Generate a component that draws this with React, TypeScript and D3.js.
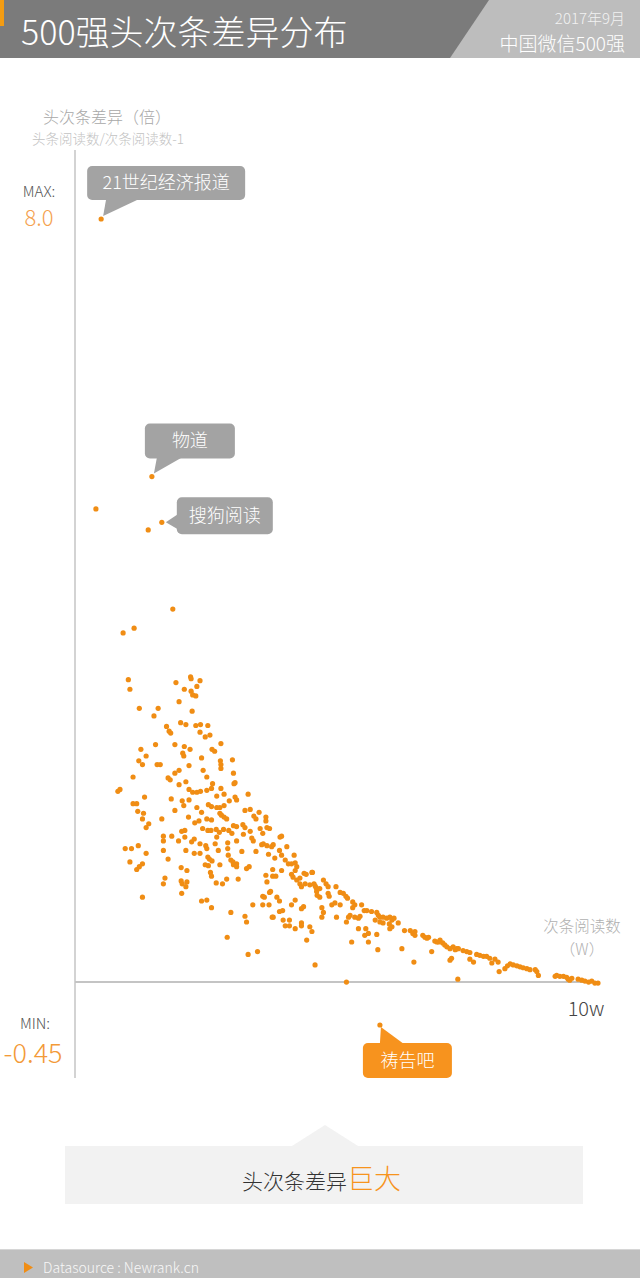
import React from "react";
import * as d3 from "d3";

// x: 次条阅读数 (thousands of reads, 100 = 10w); y: 头次条差异 (times)
const scatter: [number, number][] = [
[18.7,3.91],[9.2,3.66],[11.3,3.71],[10.2,3.17],[10.5,3.07],[12.3,2.87],[15.9,2.87],[15.1,2.79],[19.3,3.14],[22.1,3.20],
[22.2,3.18],[23.9,3.16],[20.9,3.07],[23.3,3.10],[22.2,3.05],[22.5,3.01],[23.1,3.00],[19.9,2.94],[22.4,2.84],[20.2,2.72],
[21.2,2.70],[23.1,2.69],[24.0,2.70],[25.4,2.69],[17.5,2.68],[18.0,2.63],[18.3,2.61],[23.9,2.62],[24.9,2.57],[25.8,2.59],
[15.4,2.49],[19.1,2.49],[20.9,2.47],[22.0,2.44],[27.9,2.50],[12.6,2.44],[13.6,2.37],[20.6,2.40],[20.8,2.37],[26.2,2.44],
[26.7,2.42],[12.2,2.32],[12.9,2.28],[15.7,2.28],[16.3,2.28],[24.2,2.35],[27.8,2.32],[27.9,2.28],[27.9,2.24],[30.1,2.33],
[21.8,2.27],[19.9,2.22],[19.1,2.19],[18.2,2.12],[17.8,2.14],[24.5,2.22],[25.2,2.15],[30.3,2.19],[11.1,2.15],[21.2,2.10],
[19.9,2.07],[26.3,2.08],[30.4,2.08],[30.6,2.09],[8.2,2.00],[8.6,2.02],[21.8,2.02],[22.5,1.99],[23.3,1.99],[24.0,2.00],
[25.2,2.01],[26.1,2.03],[27.9,2.03],[33.1,1.97],[28.5,1.97],[18.4,1.92],[13.3,1.94],[11.1,1.87],[11.8,1.87],[20.5,1.90],
[21.8,1.91],[27.1,1.95],[29.5,1.90],[30.6,1.94],[30.9,1.91],[25.5,1.86],[26.1,1.84],[27.1,1.83],[27.7,1.83],[28.5,1.85],
[12.0,1.79],[13.1,1.77],[19.1,1.80],[20.8,1.85],[23.3,1.83],[24.2,1.78],[32.5,1.80],[33.5,1.81],[35.2,1.78],[12.9,1.71],
[14.1,1.66],[13.6,1.62],[16.6,1.71],[21.7,1.73],[25.2,1.71],[26.1,1.70],[27.7,1.77],[28.0,1.75],[28.5,1.73],[29.0,1.71],
[30.3,1.64],[30.9,1.63],[32.1,1.65],[32.5,1.62],[34.2,1.74],[34.6,1.71],[36.5,1.73],[36.5,1.69],[22.9,1.67],[23.7,1.69],
[21.0,1.59],[20.4,1.58],[24.4,1.61],[25.4,1.59],[26.0,1.59],[27.0,1.60],[27.6,1.57],[28.4,1.60],[29.4,1.59],[30.0,1.56],
[33.5,1.58],[35.4,1.61],[35.9,1.56],[36.7,1.62],[37.2,1.61],[16.9,1.53],[16.9,1.48],[18.5,1.53],[19.8,1.48],[21.0,1.52],
[22.3,1.47],[22.8,1.50],[23.9,1.45],[25.0,1.43],[26.8,1.45],[27.1,1.52],[29.2,1.46],[30.9,1.48],[32.2,1.55],[33.8,1.51],
[34.1,1.48],[35.7,1.44],[36.0,1.45],[36.7,1.43],[37.6,1.42],[37.9,1.44],[39.2,1.52],[39.5,1.53],[40.5,1.42],[9.6,1.40],
[10.8,1.40],[12.1,1.43],[13.6,1.35],[16.9,1.38],[17.8,1.29],[21.2,1.38],[22.8,1.35],[23.9,1.35],[25.2,1.40],[27.4,1.38],
[29.2,1.40],[29.3,1.33],[29.8,1.28],[30.9,1.24],[30.2,1.26],[31.9,1.37],[34.6,1.37],[37.0,1.34],[39.1,1.38],[39.5,1.33],
[40.2,1.28],[40.8,1.24],[41.9,1.33],[42.1,1.25],[42.4,1.21],[10.5,1.26],[12.3,1.21],[11.8,1.18],[12.9,1.24],[25.4,1.31],
[25.7,1.29],[26.2,1.27],[24.9,1.23],[25.5,1.22],[27.7,1.23],[30.3,1.23],[30.9,1.21],[32.8,1.19],[33.3,1.21],[37.8,1.18],
[37.8,1.11],[38.4,1.11],[39.5,1.17],[41.4,1.13],[41.7,1.10],[43.0,1.09],[43.8,1.14],[45.3,1.15],[20.3,1.20],[21.4,1.17],
[25.9,1.15],[26.1,1.11],[36.5,1.12],[36.7,1.05],[17.2,1.09],[16.9,1.03],[20.3,1.06],[20.5,1.03],[21.4,1.05],[21.2,1.00],
[20.4,0.93],[27.0,1.04],[28.2,1.03],[29.0,1.08],[31.2,1.08],[35.9,0.90],[37.2,0.94],[43.0,1.03],[43.3,1.00],[44.9,1.02],
[45.9,1.01],[46.2,0.95],[12.9,0.89],[24.2,0.85],[25.2,0.86],[26.1,0.78],[29.8,0.73],[32.5,0.69],[32.8,0.63],[34.0,0.81],
[35.9,0.81],[37.1,0.81],[36.2,0.89],[37.4,0.95],[38.6,0.89],[37.7,0.68],[29.1,0.47],[33.1,0.29],[34.9,0.32],[38.2,1.30],
[41.4,1.24],[42.1,1.17],[42.4,1.07],[44.2,1.13],[45.4,1.15],[44.0,1.03],[45.7,1.03],[46.1,0.99],[46.8,0.98],[47.5,1.07],
[48.0,1.03],[48.4,1.00],[46.8,0.89],[46.3,0.91],[48.4,0.93],[48.6,0.90],[49.9,1.00],[50.7,0.94],[51.3,0.93],[51.8,0.90],
[52.1,0.88],[49.1,0.81],[49.7,0.83],[50.7,0.81],[53.1,0.84],[53.5,0.81],[53.1,0.78],[54.8,0.81],[55.3,0.75],[55.8,0.75],
[56.7,0.74],[57.7,0.73],[58.0,0.70],[58.3,0.68],[58.9,0.68],[59.6,0.67],[60.2,0.68],[60.6,0.65],[61.0,0.67],[52.6,0.70],
[53.5,0.68],[52.3,0.68],[51.9,0.63],[54.5,0.69],[54.2,0.67],[57.4,0.65],[58.3,0.63],[58.9,0.62],[60.1,0.61],[60.2,0.56],
[60.6,0.58],[61.8,0.62],[63.0,0.54],[64.1,0.54],[64.6,0.51],[65.0,0.49],[65.0,0.53],[66.5,0.49],[66.9,0.47],[67.6,0.47],
[69.2,0.42],[54.2,0.56],[55.6,0.56],[56.1,0.51],[55.4,0.49],[57.7,0.50],[52.9,0.42],[56.1,0.42],[62.5,0.35],[57.9,0.34],
[64.8,0.21],[68.2,0.32],[44.9,0.58],[43.3,0.62],[43.3,0.59],[42.1,0.56],[45.3,0.53],[44.3,0.44],[39.8,0.65],[40.2,0.59],
[41.0,0.59],[41.0,0.65],[37.9,0.68],[39.7,0.75],[39.1,0.74],[41.4,0.81],[42.1,0.86],[43.7,0.79],[43.3,0.77],[47.2,0.78],
[47.5,0.73],[47.2,0.68],[50.0,0.68],[39.1,0.85],[45.9,0.18],[51.9,0.00],[67.3,0.46],[68.8,0.43],[69.5,0.42],[69.8,0.44],
[70.3,0.41],[70.7,0.39],[71.1,0.37],[71.7,0.35],[72.3,0.37],[73.0,0.35],[72.7,0.34],[73.3,0.35],[71.7,0.23],[72.0,0.25],
[73.2,0.03],[74.2,0.33],[74.9,0.32],[75.5,0.31],[75.5,0.24],[76.2,0.21],[76.8,0.29],[77.4,0.28],[78.1,0.27],[78.7,0.27],
[79.3,0.25],[79.7,0.20],[80.3,0.24],[80.9,0.21],[81.1,0.11],[82.2,0.14],[82.7,0.17],[83.2,0.19],[83.8,0.18],[84.5,0.17],
[85.1,0.16],[85.7,0.15],[86.4,0.14],[87.0,0.13],[88.0,0.13],[88.3,0.11],[88.6,0.07],[91.8,0.06],[92.1,0.07],[92.7,0.06],
[93.4,0.06],[94.0,0.05],[94.3,0.03],[94.6,0.02],[95.0,0.04],[96.2,0.03],[96.9,0.02],[97.5,0.01],[98.2,0.00],[98.8,0.01],
[99.4,-0.01],[100,-0.01],[4.0,4.96],[14.0,4.74]
];

const calloutNames = ["21世纪经济报道", "物道", "搜狗阅读", "祷告吧"];
const calloutX = [5.0, 14.7, 16.6, 58.3];
const calloutY = [8.0, 5.3, 4.82, -0.45];

const xDomain = [0, 100];
const yDomain = [-0.45, 8];
const maxLabel = "8.0";
const minLabel = "-0.45";
const xEndLabel = "10w";

const FONT = "'Noto Sans CJK SC', 'Noto Sans', sans-serif";
const ORANGE = "#f08d14";

export default function App() {
  const x = d3.scaleLinear().domain(xDomain).range([75, 598]);
  const y = d3.scaleLinear().domain(yDomain).range([1025, 219]);
  const y0 = y(0);

  const layout: Record<string, any> = {
    "21世纪经济报道": { dx: -14, dy: -53, w: 158, h: 34, fill: "#a3a3a3",
      tail: (tx: number, ty: number, bx: number, by: number, w: number, h: number) =>
        `M${tx + 2},${ty - 3}L${tx + 5},${by + h - 1}L${tx + 38},${by + h - 1}Z` },
    "物道": { dx: -7, dy: -53, w: 90, h: 35, fill: "#a3a3a3",
      tail: (tx: number, ty: number, bx: number, by: number, w: number, h: number) =>
        `M${tx + 2},${ty - 3}L${tx + 5},${by + h - 1}L${tx + 30},${by + h - 1}Z` },
    "搜狗阅读": { dx: 15, dy: -25, w: 96, h: 37, fill: "#a3a3a3",
      tail: (tx: number, ty: number, bx: number, by: number, w: number, h: number) =>
        `M${tx + 4},${ty}L${bx + 1},${ty - 8}L${bx + 1},${ty + 7}Z` },
    "祷告吧": { dx: -17, dy: 18, w: 89, h: 35, fill: "#f7931e",
      tail: (tx: number, ty: number, bx: number, by: number, w: number, h: number) =>
        `M${tx + 1},${ty + 2}L${tx},${by + 1}L${tx + 24},${by + 1}Z` },
  };

  return (
    <div style={{ position: "absolute", left: 0, top: 0 }}>
      <svg width={640} height={1278} style={{ display: "block", fontFamily: FONT, fontWeight: 300 }}>
        <rect x={0} y={0} width={640} height={1278} fill="#ffffff" />
        {/* header */}
        <rect x={0} y={0} width={640} height={58} fill="#7b7b7b" />
        <path d="M489,0L640,0L640,58L450,58Z" fill="#bdbdbd" />
        <rect x={0} y={0} width={4} height={26} fill="#f39c12" />
        <text x={21} y={45} fontSize={34} fill="#ffffff">500强头次条差异分布</text>
        <text x={625} y={24} fontSize={15} fill="#f2f2f2" textAnchor="end">2017年9月</text>
        <text x={625} y={51} fontSize={19} fill="#ffffff" textAnchor="end">中国微信500强</text>

        {/* axis titles */}
        <text x={107} y={123} fontSize={16} fill="#a8a8a8" textAnchor="middle">头次条差异（倍）</text>
        <text x={108} y={144} fontSize={13.5} fill="#c2c2c2" textAnchor="middle">头条阅读数/次条阅读数-1</text>

        {/* axes */}
        <line x1={x(0)} x2={x(0)} y1={150} y2={1078} stroke="#c4c4c4" strokeWidth={1.5} />
        <line x1={x(0)} x2={x(xDomain[1])} y1={y0} y2={y0} stroke="#c4c4c4" strokeWidth={2} />

        <text x={39} y={197} fontSize={15} fill="#555" textAnchor="middle">MAX:</text>
        <text x={39} y={226} fontSize={22} fill="#f5a250" textAnchor="middle">{maxLabel}</text>
        <text x={35} y={1029} fontSize={15} fill="#555" textAnchor="middle">MIN:</text>
        <text x={33} y={1063} fontSize={27} fill="#f39a38" textAnchor="middle">{minLabel}</text>
        <text x={x(xDomain[1]) - 12} y={1016} fontSize={20} fill="#444" textAnchor="middle">{xEndLabel}</text>
        <text x={582} y={932} fontSize={15.5} fill="#b0b0b0" textAnchor="middle">次条阅读数</text>
        <text x={582} y={955} fontSize={15.5} fill="#b0b0b0" textAnchor="middle">（W）</text>

        {/* points */}
        <g fill={ORANGE}>
          {scatter.map((d, i) => (
            <circle key={i} cx={x(d[0])} cy={y(d[1])} r={2.6} />
          ))}
        </g>

        {/* callouts */}
        {calloutNames.map((name, i) => {
          const tx = x(calloutX[i]);
          const ty = y(calloutY[i]);
          const L = layout[name];
          const bx = tx + L.dx;
          const by = ty + L.dy;
          return (
            <g key={name}>
              <circle cx={tx} cy={ty} r={2.6} fill={ORANGE} />
              <rect x={bx} y={by} width={L.w} height={L.h} rx={5} fill={L.fill} />
              <path d={L.tail(tx, ty, bx, by, L.w, L.h)} fill={L.fill} />
              <text x={bx + L.w / 2} y={by + L.h / 2 + 6} fontSize={18} fill="#fff" textAnchor="middle">{name}</text>
            </g>
          );
        })}

        {/* conclusion box */}
        <rect x={65} y={1146} width={518} height={58} fill="#f2f2f2" />
        <path d="M292,1146L325,1125L358,1146Z" fill="#f2f2f2" />
        <text x={242} y={1189} fontSize={21} fill="#333">
          头次条差异<tspan fontSize={27} fill="#f7941d">巨大</tspan>
        </text>

        {/* footer */}
        <rect x={0} y={1249} width={640} height={29} fill="#bfbfbf" />
        <rect x={0} y={1249} width={640} height={1} fill="#d6d6d6" />
        <path d="M24,1262L33,1267.5L24,1273Z" fill="#f08d14" />
        <text x={43} y={1273} fontSize={14} fill="#f7f7f7">Datasource : Newrank.cn</text>
      </svg>
    </div>
  );
}
